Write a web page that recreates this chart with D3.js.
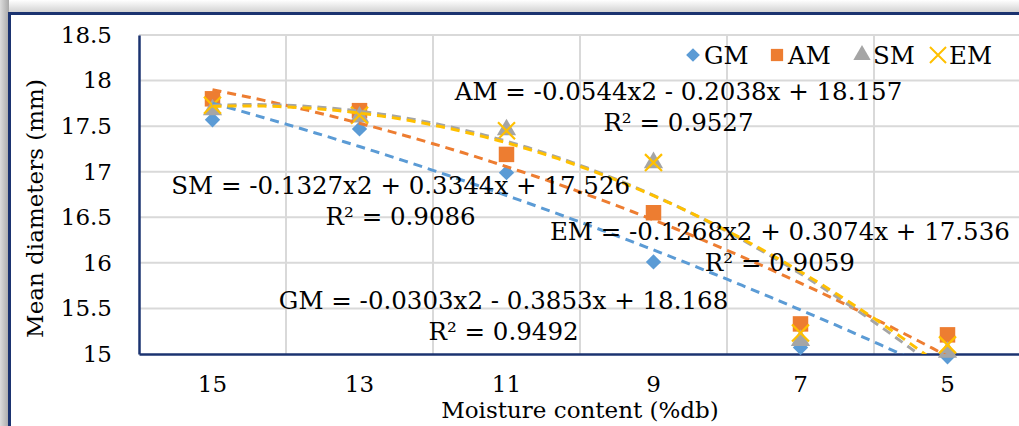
<!DOCTYPE html>
<html>
<head>
<meta charset="utf-8">
<script src="https://cdn.jsdelivr.net/npm/d3@7"></script>
<style>
  html, body { margin: 0; padding: 0; background: #fff; }
  svg { display: block; font-family: "DejaVu Serif", serif; }
</style>
</head>
<body>
<div id="chart"></div>
<script>
// categories (moisture content, %db) and series values
const categories = ["15", "13", "11", "9", "7", "5"];
const gm = [17.57, 17.47, 16.99, 16.01, 15.07, 14.97];
const am = [17.80, 17.67, 17.19, 16.55, 15.33, 15.21];
const sm = [17.68, 17.60, 17.46, 17.10, 15.15, 15.02];
const em = [17.73, 17.62, 17.45, 17.10, 15.23, 15.10];
const yTicks = [15, 15.5, 16, 16.5, 17, 17.5, 18, 18.5];

// polynomial trendline coefficients (a, b, c) as printed on the chart
const fits = {
  GM: [-0.0303, -0.3853, 18.168],
  AM: [-0.0544, -0.2038, 18.157],
  SM: [-0.1327, 0.3344, 17.526],
  EM: [-0.1268, 0.3074, 17.536]
};
const equations = {
  GM: ["GM = -0.0303x2 - 0.3853x + 18.168", "R² = 0.9492"],
  AM: ["AM = -0.0544x2 - 0.2038x + 18.157", "R² = 0.9527"],
  SM: ["SM = -0.1327x2 + 0.3344x + 17.526", "R² = 0.9086"],
  EM: ["EM = -0.1268x2 + 0.3074x + 17.536", "R² = 0.9059"]
};
// label anchors in data units (category index, value)
const labelPos = {
  AM: [4.17, 17.886],
  SM: [2.28, 16.854],
  EM: [4.86, 16.35],
  GM: [2.98, 15.593]
};

const series = [
  { name: "GM", values: gm, color: "#5b9bd5", shape: "diamond" },
  { name: "AM", values: am, color: "#ed7d31", shape: "square" },
  { name: "SM", values: sm, color: "#a5a5a5", shape: "triangle" },
  { name: "EM", values: em, color: "#ffc000", shape: "x" }
];

const W = 1019, H = 426;
const navy = "#1b3370";
const plot = { left: 139, right: 1021, top: 35, bottom: 354 };

const svg = d3.select("#chart").append("svg")
  .attr("width", W).attr("height", H);

// shadow strips + frame
const defs = svg.append("defs");
const gl = defs.append("linearGradient").attr("id", "shL").attr("x1", 0).attr("x2", 1).attr("y1", 0).attr("y2", 0);
gl.append("stop").attr("offset", 0).attr("stop-color", "#dcdcdc");
gl.append("stop").attr("offset", 1).attr("stop-color", "#a8a8a8");
const gt = defs.append("linearGradient").attr("id", "shT").attr("x1", 0).attr("x2", 0).attr("y1", 0).attr("y2", 1);
gt.append("stop").attr("offset", 0).attr("stop-color", "#ffffff");
gt.append("stop").attr("offset", 1).attr("stop-color", "#cfcfcf");
defs.append("clipPath").attr("id", "plotClip").append("rect")
  .attr("x", plot.left).attr("y", plot.top)
  .attr("width", plot.right - plot.left).attr("height", plot.bottom - plot.top);

svg.append("rect").attr("x", 0).attr("y", 0).attr("width", W).attr("height", 13).attr("fill", "url(#shT)");
svg.append("rect").attr("x", 0).attr("y", 0).attr("width", 9).attr("height", H).attr("fill", "url(#shL)");
svg.append("rect").attr("x", 9.5).attr("y", 13.5).attr("width", W + 10).attr("height", H + 10)
  .attr("fill", "#fff").attr("stroke", navy).attr("stroke-width", 3);

const x = d3.scaleBand().domain(categories).range([plot.left, plot.right]);
const y = d3.scaleLinear().domain([15, 18.5]).range([plot.bottom, plot.top]);
const xi = d3.scaleLinear().domain([1, 6]).range([x(categories[0]) + x.bandwidth() / 2, x(categories[5]) + x.bandwidth() / 2]);

// gridlines
svg.append("g").selectAll("line.h").data(yTicks.filter(d => d > 15)).join("line")
  .attr("x1", plot.left).attr("x2", plot.right)
  .attr("y1", d => y(d)).attr("y2", d => y(d))
  .attr("stroke", "#d9d9d9").attr("stroke-width", 2);
svg.append("g").selectAll("line.v").data(categories.slice(1)).join("line")
  .attr("x1", d => x(d)).attr("x2", d => x(d))
  .attr("y1", plot.top).attr("y2", plot.bottom)
  .attr("stroke", "#d9d9d9").attr("stroke-width", 2);

// axes
const yAxis = svg.append("g").attr("transform", `translate(${plot.left},0)`)
  .call(d3.axisLeft(y).tickValues(yTicks).tickSize(0).tickPadding(27).tickFormat(d3.format("")));
yAxis.select(".domain").attr("stroke", navy).attr("stroke-width", 2.5);
yAxis.selectAll("text").attr("font-size", 23).attr("fill", "#000").attr("font-family", "DejaVu Serif");

const xAxis = svg.append("g").attr("transform", `translate(0,${plot.bottom})`)
  .call(d3.axisBottom(x).tickSize(0).tickPadding(22));
xAxis.select(".domain").attr("stroke", navy).attr("stroke-width", 2.5);
xAxis.selectAll("text").attr("font-size", 23).attr("fill", "#000").attr("font-family", "DejaVu Serif");

// axis titles
svg.append("text").attr("x", (plot.left + plot.right) / 2).attr("y", 418)
  .attr("text-anchor", "middle").attr("font-size", 23).text("Moisture content (%db)");
svg.append("text").attr("transform", `translate(43,${(plot.top + plot.bottom) / 2 + 14}) rotate(-90)`)
  .attr("text-anchor", "middle").attr("font-size", 23).text("Mean diameters (mm)");

// markers
const sym = {
  diamond: d3.symbol().type(d3.symbolDiamond2).size(150),
  square: d3.symbol().type(d3.symbolSquare).size(240),
  triangle: d3.symbol().type(d3.symbolTriangle).size(160),
  x: d3.symbol().type(d3.symbolTimes).size(190)
};
function drawMarker(g, shape, color) {
  g.append("path").attr("d", sym[shape]())
    .attr("fill", shape === "x" ? "none" : color)
    .attr("stroke", shape === "x" ? color : "none")
    .attr("stroke-width", 2.2);
}
series.forEach(s => {
  svg.append("g").selectAll("g").data(s.values).join("g")
    .attr("transform", (d, i) => `translate(${x(categories[i]) + x.bandwidth() / 2},${y(d)})`)
    .each(function () { drawMarker(d3.select(this), s.shape, s.color); });
});

// trendlines (2nd order polynomial on category index)
const line = d3.line().x(d => xi(d[0])).y(d => y(d[1]));
series.forEach(s => {
  const [a, b, c] = fits[s.name];
  const pts = d3.range(1, 6.001, 0.05).map(t => [t, a * t * t + b * t + c]);
  svg.append("path").datum(pts).attr("d", line)
    .attr("clip-path", "url(#plotClip)")
    .attr("fill", "none").attr("stroke", s.color)
    .attr("stroke-width", 3).attr("stroke-dasharray", "9,6");
});

// equation labels
series.forEach(s => {
  const [ix, v] = labelPos[s.name];
  const t = svg.append("text").attr("text-anchor", "middle").attr("font-size", 24.5)
    .attr("x", xi(ix)).attr("y", y(v) + 9);
  t.append("tspan").attr("x", xi(ix)).text(equations[s.name][0]);
  t.append("tspan").attr("x", xi(ix)).attr("dy", 31).text(equations[s.name][1]);
});

// legend
const legendX = [693, 777, 862, 938];
const leg = svg.append("g").attr("transform", "translate(0,55)");
series.forEach((s, i) => {
  const g = leg.append("g").attr("transform", `translate(${legendX[i]},0)`);
  const shapeSize = { diamond: 120, square: 150, triangle: 130, x: 170 };
  g.append("path").attr("d", d3.symbol().type(
      s.shape === "diamond" ? d3.symbolDiamond2 : s.shape === "square" ? d3.symbolSquare :
      s.shape === "triangle" ? d3.symbolTriangle : d3.symbolTimes).size(shapeSize[s.shape])())
    .attr("fill", s.shape === "x" ? "none" : s.color)
    .attr("stroke", s.shape === "x" ? s.color : "none").attr("stroke-width", 2);
  g.append("text").attr("x", 11).attr("y", 9).attr("font-size", 24.5).text(s.name);
});
</script>
</body>
</html>
